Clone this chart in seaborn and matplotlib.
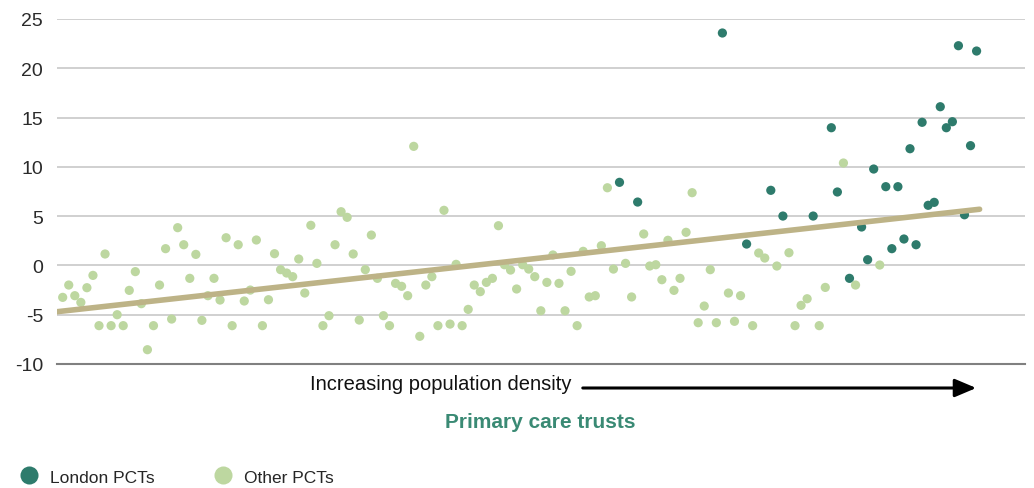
import numpy as np
import pandas as pd
import matplotlib
matplotlib.use("Agg")
import matplotlib.pyplot as plt
import seaborn as sns

# Change per PCT, ordered by increasing population density (left to right)
values = [
    -3.24, -1.99, -3.07, -3.75, -2.26, -1.01, -6.11, 1.16, -6.11, -5.00,
    -6.11, -2.53, -0.63, -3.88, -8.55, -6.11, -1.99, 1.70, -5.44, 3.83,
    2.10, -1.31, 1.12, -5.57, -3.07, -1.31, -3.51, 2.81, -6.11, 2.10,
    -3.61, -2.50, 2.58, -6.11, -3.48, 1.19, -0.43, -0.77, -1.14, 0.65,
    -2.80, 4.07, 0.21, -6.11, -5.10, 2.10, 5.45, 4.88, 1.16, -5.54,
    -0.43, 3.08, -1.31, -5.10, -6.11, -1.82, -2.12, -3.07, 12.08, -7.19,
    -1.99, -1.14, -6.11, 5.59, -5.95, 0.11, -6.11, -4.46, -1.99, -2.66,
    -1.72, -1.31, 4.03, 0.07, -0.47, -2.39, 0.07, -0.37, -1.14, -4.60,
    -1.72, 1.06, -1.82, -4.60, -0.60, -6.11, 1.43, -3.20, -3.07, 2.00,
    7.88, -0.37, 8.43, 0.21, -3.20, 6.43, 3.19, -0.06, 0.07, -1.45,
    2.55, -2.53, -1.31, 3.36, 7.38, -5.81, -4.12, -0.43, -5.81, 23.58,
    -2.80, -5.67, -3.07, 2.17, -6.11, 1.26, 0.75, 7.62, -0.06, 5.01,
    1.29, -6.11, -4.05, -3.38, 5.01, -6.11, -2.23, 13.97, 7.45, 10.39,
    -1.31, -1.99, 3.90, 0.58, 9.78, 0.04, 7.99, 1.70, 7.99, 2.68,
    11.84, 2.10, 14.52, 6.10, 6.40, 16.10, 13.97, 14.58, 22.29, 5.14,
    12.15, 21.75,
]
# Positions (in the list above) of the London PCTs
london_idx = [92, 95, 109, 113, 117, 119, 124, 127, 128, 130, 132, 133,
              134, 136, 137, 138, 139, 140, 141, 142, 143, 144, 145, 146,
              147, 148, 149, 150, 151]

# Linear trend across all PCTs
trend_x = [-1.0, 151.5]
trend_y = [-4.7, 5.7]

y_ticks = [-10, -5, 0, 5, 10, 15, 20, 25]
group_labels = ["London PCTs", "Other PCTs"]

london_col = "#2e7b6c"
other_col = "#bdd7a0"
trend_col = "#bdb387"
title_col = "#3a8a74"

df = pd.DataFrame({"pos": np.arange(len(values)), "value": values})
df["group"] = group_labels[1]
df.loc[london_idx, "group"] = group_labels[0]

sns.set_theme(style="white")
plt.rcParams["font.family"] = ["Liberation Sans", "DejaVu Sans"]

fig = plt.figure(figsize=(10.34, 4.89), dpi=100)
ax = fig.add_axes([57 / 1034, 1 - 365 / 489, (1025 - 57) / 1034, 345 / 489])

ax.set_ylim(-10, 25)
ax.set_xlim(-0.94, 159.0)
ax.set_yticks(y_ticks)
ax.set_yticklabels([str(t) for t in y_ticks], fontsize=14, color="#2a2a2a")
ax.set_xticks([])
ax.yaxis.grid(True, color="#c8c8c8", linewidth=1.2)
ax.set_axisbelow(True)
for side in ["top", "right", "left"]:
    ax.spines[side].set_visible(False)
ax.spines["bottom"].set_color("#808080")
ax.spines["bottom"].set_linewidth(1.5)
ax.tick_params(axis="y", length=0, pad=10)

sns.scatterplot(data=df, x="pos", y="value", hue="group",
                hue_order=[group_labels[1], group_labels[0]],
                palette={group_labels[0]: london_col, group_labels[1]: other_col},
                s=44, edgecolor="none", linewidth=0, legend=False, ax=ax, zorder=2)
sns.lineplot(x=trend_x, y=trend_y, color=trend_col, linewidth=4.0, ax=ax,
             zorder=3)
ax.set_xlabel("")
ax.set_ylabel("")

# Density arrow and axis caption
fig.text(571 / 1034, 1 - 385 / 489, "Increasing population density",
         ha="right", va="center", fontsize=14.5, color="#111111")
fig.add_artist(matplotlib.patches.FancyArrowPatch(
    (580 / 1034, 1 - 389 / 489), (979 / 1034, 1 - 389 / 489),
    transform=fig.transFigure, arrowstyle="-|>,head_length=13,head_width=5.5",
    mutation_scale=1, color="black", linewidth=2.2))
fig.text(540 / 1034, 1 - 422 / 489, "Primary care trusts", ha="center",
         va="center", fontsize=15, fontweight="bold", color=title_col)

# Legend
handles = [plt.Line2D([], [], marker="o", linestyle="none", markersize=13,
                      markerfacecolor=c, markeredgecolor="none")
           for c in (london_col, other_col)]
fig.legend(handles, group_labels, loc="center left",
           bbox_to_anchor=(12 / 1034, 1 - 478 / 489), ncol=2, frameon=False,
           fontsize=12.5, handletextpad=0.7, columnspacing=3.45,
           handlelength=1.0, borderpad=0)

fig.savefig("out.png", dpi=100)
